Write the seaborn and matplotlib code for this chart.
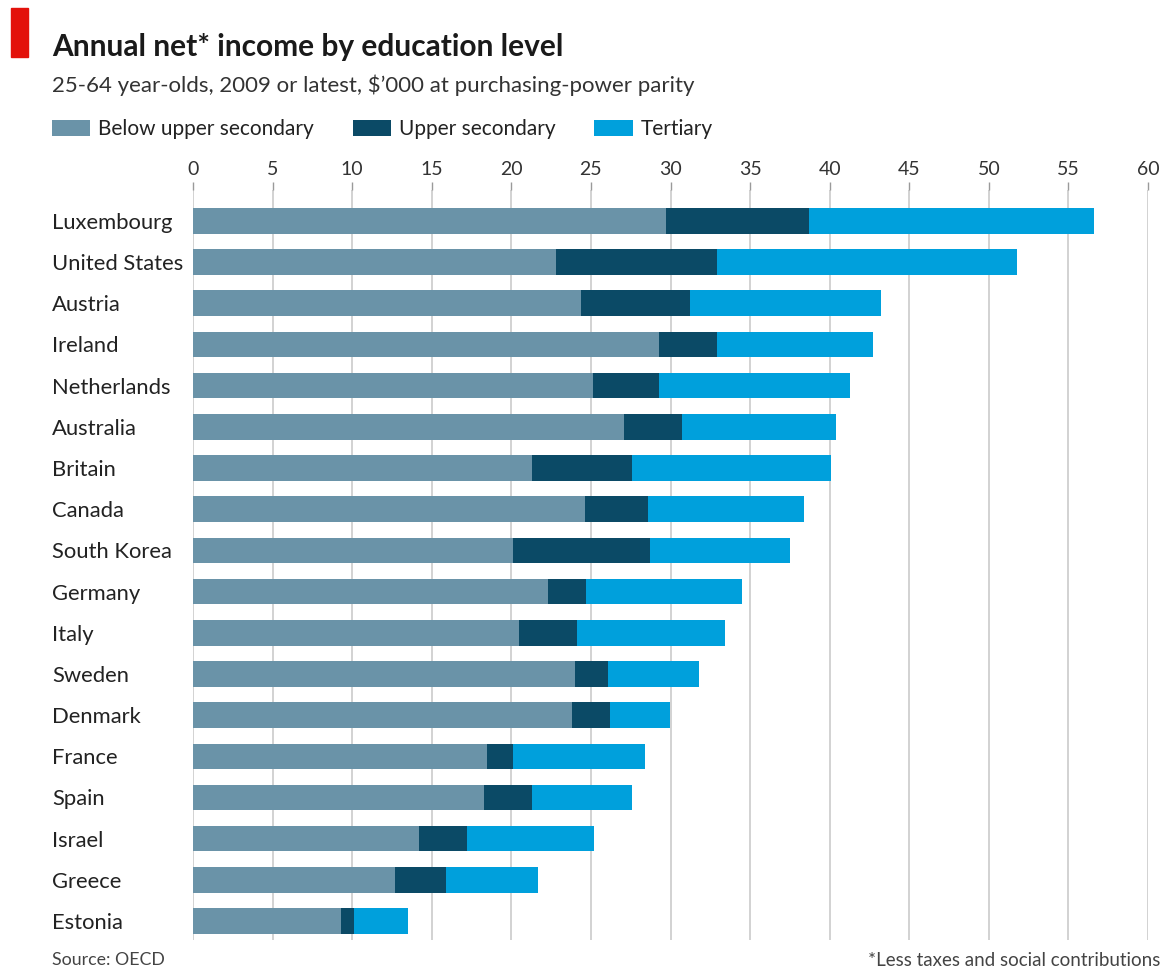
import matplotlib
matplotlib.use("Agg")
import matplotlib.pyplot as plt
import seaborn as sns
import pandas as pd
from matplotlib.patches import Rectangle, Patch

countries = ["Luxembourg", "United States", "Austria", "Ireland", "Netherlands",
             "Australia", "Britain", "Canada", "South Korea", "Germany", "Italy",
             "Sweden", "Denmark", "France", "Spain", "Israel", "Greece", "Estonia"]
below_upper_secondary = [29.7, 22.8, 24.4, 29.3, 25.1, 27.1, 21.3, 24.6, 20.1, 22.3,
                         20.5, 24.0, 23.8, 18.5, 18.3, 14.2, 12.7, 9.3]
upper_secondary = [38.7, 32.9, 31.2, 32.9, 29.3, 30.7, 27.6, 28.6, 28.7, 24.7,
                   24.1, 26.1, 26.2, 20.1, 21.3, 17.2, 15.9, 10.1]
tertiary = [56.6, 51.8, 43.2, 42.7, 41.3, 40.4, 40.1, 38.4, 37.5, 34.5,
            33.4, 31.8, 29.95, 28.4, 27.6, 25.2, 21.7, 13.5]
levels = ["Below upper secondary", "Upper secondary", "Tertiary"]
colors = ["#6a93a8", "#0b4a66", "#00a0dc"]
xticks = list(range(0, 61, 5))

sns.set_theme(style="white")
plt.rcParams["font.family"] = ["Lato", "DejaVu Sans"]

W, H = 1175, 972
fig = plt.figure(figsize=(W / 100, H / 100), dpi=100)
fig.patch.set_facecolor("white")
ax = fig.add_axes([193 / W, 1 - 940 / H, (1148 - 193) / W, (940 - 190) / H])

series = {"Below upper secondary": below_upper_secondary,
          "Upper secondary": upper_secondary,
          "Tertiary": tertiary}
# overlapping bars: widest (tertiary) first, then upper secondary, then below
for lvl, col in zip(levels[::-1], colors[::-1]):
    d = pd.DataFrame({"country": countries, "value": series[lvl]})
    sns.barplot(data=d, x="value", y="country", order=countries, color=col,
                saturation=1, width=0.62, ax=ax, linewidth=0)

ax.set_xlim(0, 60)
ax.set_ylim(17.46, -0.75)
ax.set_xlabel("")
ax.set_ylabel("")
ax.xaxis.tick_top()
ax.set_xticks(xticks)
ax.set_xticklabels([str(t) for t in xticks])
ax.tick_params(axis="x", top=True, length=6, width=1, color="#9a9a9a",
               labelsize=14, labelcolor="#333333", pad=3)
ax.grid(axis="x", color="#cfcfcf", linewidth=1.3)
ax.grid(axis="y", visible=False)
ax.set_axisbelow(True)
for s in ax.spines.values():
    s.set_visible(False)

ax.tick_params(axis="y", length=0, labelsize=15.8, labelcolor="#222222",
               pad=(193 - 52) * 0.72)
for lbl in ax.get_yticklabels():
    lbl.set_ha("left")

# red tag
fig.patches.append(Rectangle((11 / W, 1 - 57 / H), 17 / W, 49 / H,
                             transform=fig.transFigure, color="#e3120b"))
fig.text(52 / W, 1 - 47 / H, "Annual net* income by education level",
         fontsize=21.5, fontweight="bold", color="#1a1a1a", va="center", ha="left")
fig.text(52 / W, 1 - 85 / H,
         "25-64 year-olds, 2009 or latest, $\u2019000 at purchasing-power parity",
         fontsize=16, color="#333333", va="center", ha="left")

handles = [Patch(facecolor=c, edgecolor="none") for c in colors]
fig.legend(handles, levels, loc="center left", bbox_to_anchor=(52 / W, 1 - 129 / H),
           ncol=3, frameon=False, fontsize=15, handlelength=1.83, handleheight=0.8,
           handletextpad=0.4, columnspacing=1.85, borderaxespad=0, borderpad=0,
           labelcolor="#222222")

fig.text(52 / W, 1 - 960 / H, "Source: OECD", fontsize=12.8, color="#444444",
         va="center", ha="left")
fig.text(1160 / W, 1 - 960 / H, "*Less taxes and social contributions",
         fontsize=13.5, color="#444444", va="center", ha="right")

fig.savefig("out.png", dpi=100)
